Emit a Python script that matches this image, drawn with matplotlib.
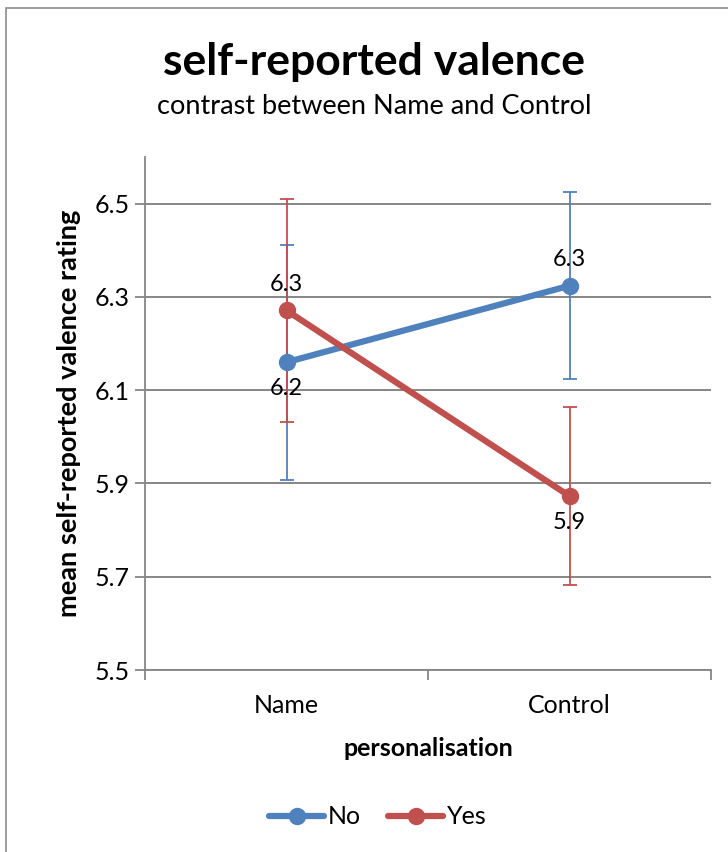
import matplotlib
matplotlib.use("Agg")
import matplotlib.pyplot as plt
from matplotlib.patches import Rectangle

plt.rcParams['font.family'] = ['Lato', 'DejaVu Sans']

categories = ["Name", "Control"]
series_names = ["No", "Yes"]
no_means = [6.16, 6.324]
yes_means = [6.271, 5.873]
no_err = [0.252, 0.20]
yes_err = [0.24, 0.19]
y_ticks = [5.5, 5.7, 5.9, 6.1, 6.3, 6.5]

blue = "#4F81BD"
red = "#C0504D"
grid_c = "#868686"

fig = plt.figure(figsize=(7.28, 8.52), dpi=100)
fig.patches.append(Rectangle((6/728, -0.1), 1.2, 1 - 8/852 + 0.1, transform=fig.transFigure,
                             fill=False, edgecolor="#8c8c8c", linewidth=1.2))
ax = fig.add_axes([145/728, 1 - 670/852, 566/728, 513/852])

x = list(range(len(categories)))
for means, errs, color, name in [(no_means, no_err, blue, "No"), (yes_means, yes_err, red, "Yes")]:
    ax.errorbar(x, means, yerr=errs, fmt='none', ecolor=color, elinewidth=1.3,
                capsize=5, capthick=1.3, zorder=3)
    ax.plot(x, means, color=color, linewidth=4.5, marker='o', markersize=11.5,
            solid_capstyle='round', label=name, zorder=4)

# value labels
label_pos = [
    (0, no_means[0], 'below'), (1, no_means[1], 'above'),
    (0, yes_means[0], 'above'), (1, yes_means[1], 'below'),
]
for xi, v, where in label_pos:
    off = 19 if where == 'above' else -19
    ax.annotate(f"{v:.1f}", (xi, v), xytext=(0, off), textcoords='offset points',
                ha='center', va='center', fontsize=17, zorder=5)

ax.set_xlim(-0.5, 1.5)
ax.set_ylim(5.5, 6.6)
ax.set_yticks(y_ticks)
ax.set_yticklabels([f"{t:.1f}" for t in y_ticks], fontsize=18)
ax.set_xticks(x)
ax.set_xticklabels(categories, fontsize=18)
ax.tick_params(axis='x', length=0, pad=17)
ax.set_xticks([-0.5, 0.5, 1.5], minor=True)
ax.tick_params(axis='x', which='minor', length=7, width=1.3, color=grid_c, direction='out')
ax.tick_params(axis='y', length=7, width=1.3, color=grid_c, direction='out', pad=4)
ax.yaxis.grid(True, color=grid_c, linewidth=1.4)
ax.set_axisbelow(True)
for s in ['top', 'right']:
    ax.spines[s].set_visible(False)
for s in ['left', 'bottom']:
    ax.spines[s].set_color(grid_c)
    ax.spines[s].set_linewidth(1.3)

ax.set_xlabel("personalisation", fontsize=18, fontweight='bold', labelpad=15)
ax.set_ylabel("mean self-reported valence rating", fontsize=19.5, fontweight='bold', labelpad=10)

fig.text(0.5 + 10/728, 1 - 62/852, "self-reported valence", ha='center', va='center',
         fontsize=32, fontweight='bold')
fig.text(0.5 + 10/728, 1 - 107/852, "contrast between Name and Control", ha='center',
         va='center', fontsize=19.5)

fig.legend(loc='center', bbox_to_anchor=(378/728, 1 - 817/852), ncol=2, frameon=False,
           fontsize=18, handlelength=2.2, columnspacing=1.1, handletextpad=0.15,
           markerscale=1.0)

fig.savefig("out.png", dpi=100)
